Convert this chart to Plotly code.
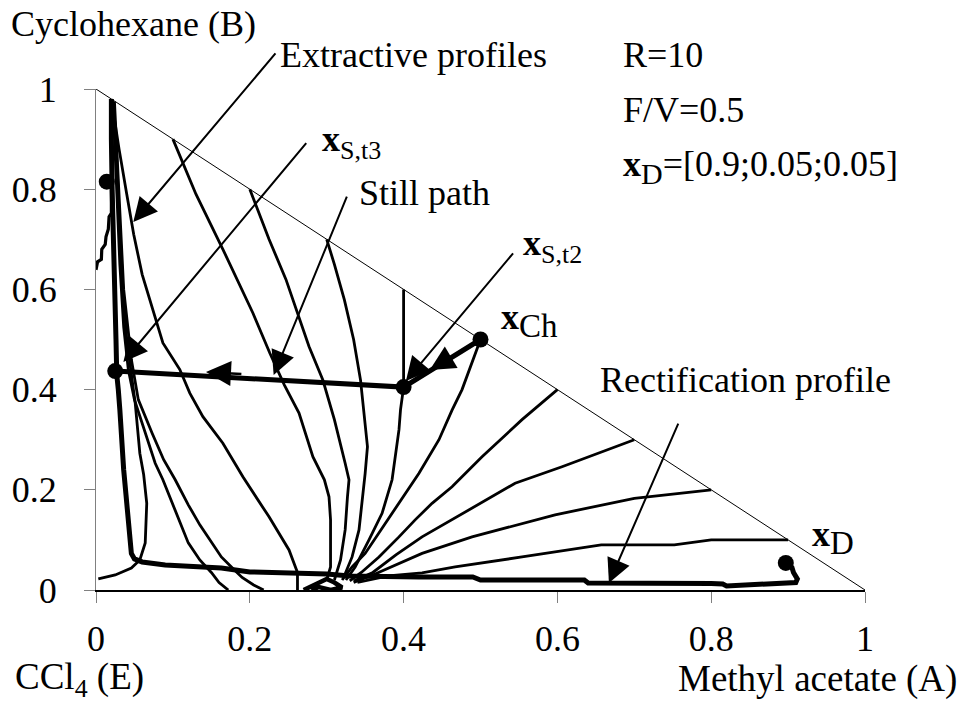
import plotly.graph_objects as go

FONT = "Liberation Serif"
FS = 36
SUB = 26

# ---------------- data (mole fractions: x = methyl acetate, y = cyclohexane) ----
diag_x = [0.0, 1.0]
diag_y = [1.0, 0.0]

# extractive profiles starting on the A-B edge
p1_x = [0.10, 0.13, 0.165, 0.204, 0.226, 0.245, 0.264, 0.282, 0.297, 0.303, 0.305, 0.305, 0.30]
p1_y = [0.90, 0.79, 0.68, 0.553, 0.473, 0.409, 0.353, 0.266, 0.22, 0.186, 0.14, 0.046, 0.02]
p2_x = [0.20, 0.225, 0.247, 0.277, 0.295, 0.31, 0.324, 0.329, 0.327, 0.324, 0.318, 0.31]
p2_y = [0.80, 0.70, 0.62, 0.486, 0.419, 0.34, 0.253, 0.22, 0.186, 0.12, 0.06, 0.02]
p3_x = [0.30, 0.31, 0.323, 0.335, 0.344, 0.348, 0.353, 0.35, 0.347, 0.342, 0.333, 0.322]
p3_y = [0.70, 0.65, 0.579, 0.50, 0.419, 0.353, 0.286, 0.233, 0.186, 0.12, 0.066, 0.025]
p4_x = [0.40, 0.40, 0.396, 0.394, 0.385, 0.372, 0.355, 0.337, 0.325]
p4_y = [0.60, 0.405, 0.36, 0.32, 0.22, 0.153, 0.10, 0.046, 0.02]
p5_x = [0.50, 0.476, 0.463, 0.446, 0.42, 0.394, 0.376, 0.35, 0.333, 0.32]
p5_y = [0.50, 0.40, 0.359, 0.30, 0.233, 0.173, 0.133, 0.073, 0.046, 0.02]
p6_x = [0.60, 0.554, 0.502, 0.463, 0.437, 0.415, 0.394, 0.368, 0.345, 0.33]
p6_y = [0.40, 0.34, 0.266, 0.206, 0.173, 0.14, 0.106, 0.066, 0.035, 0.018]
p7_x = [0.70, 0.606, 0.545, 0.485, 0.463, 0.424, 0.39, 0.36, 0.335]
p7_y = [0.30, 0.246, 0.213, 0.16, 0.14, 0.106, 0.07, 0.035, 0.018]
p8_x = [0.80, 0.70, 0.597, 0.489, 0.424, 0.39, 0.36, 0.335]
p8_y = [0.20, 0.183, 0.15, 0.106, 0.073, 0.05, 0.03, 0.015]
p9_x = [0.90, 0.80, 0.752, 0.657, 0.554, 0.467, 0.424, 0.38, 0.34]
p9_y = [0.10, 0.10, 0.09, 0.09, 0.066, 0.046, 0.034, 0.028, 0.015]

# profiles near the B-E edge
l2_x = [0.02, 0.03, 0.04, 0.049, 0.06, 0.07, 0.087, 0.109, 0.122, 0.139, 0.165, 0.191, 0.225, 0.251, 0.258, 0.262, 0.262]
l2_y = [0.98, 0.88, 0.79, 0.71, 0.63, 0.579, 0.493, 0.44, 0.393, 0.346, 0.293, 0.226, 0.146, 0.08, 0.05, 0.035, 0.0]
l3_x = [0.022, 0.027, 0.031, 0.036, 0.042, 0.05, 0.064, 0.077, 0.087, 0.105, 0.12, 0.135, 0.15, 0.16, 0.172]
l3_y = [0.975, 0.80, 0.65, 0.525, 0.44, 0.38, 0.313, 0.253, 0.22, 0.15, 0.094, 0.06, 0.035, 0.015, 0.0]
l4_x = [0.024, 0.03, 0.036, 0.046, 0.055, 0.073, 0.088, 0.103, 0.12, 0.135, 0.15, 0.163, 0.18, 0.19, 0.205, 0.218]
l4_y = [0.975, 0.80, 0.60, 0.46, 0.38, 0.313, 0.26, 0.22, 0.17, 0.13, 0.095, 0.066, 0.04, 0.025, 0.01, 0.0]
loop_x = [0.003, 0.025, 0.046, 0.057, 0.064, 0.066, 0.062, 0.057, 0.051, 0.046, 0.04, 0.035, 0.03, 0.026, 0.022]
loop_y = [0.022, 0.03, 0.044, 0.06, 0.094, 0.173, 0.23, 0.273, 0.373, 0.433, 0.50, 0.60, 0.75, 0.90, 0.975]
jag_x = [0.0, 0.002, 0.007, 0.0075, 0.012, 0.013, 0.016, 0.017, 0.02, 0.02]
jag_y = [0.639, 0.655, 0.66, 0.68, 0.69, 0.705, 0.72, 0.745, 0.752, 0.80]
blob_x = [0.27, 0.285, 0.30, 0.31, 0.32, 0.305, 0.29, 0.28]
blob_y = [0.0, 0.01, 0.022, 0.015, 0.005, 0.0, 0.006, 0.0]

# rectification profile (thick)
rect_x = [0.897, 0.905, 0.907, 0.912, 0.91, 0.888, 0.87, 0.82, 0.815, 0.80, 0.64, 0.635, 0.50, 0.49, 0.42,
          0.33, 0.30, 0.25, 0.20, 0.163, 0.09, 0.06, 0.05, 0.046, 0.044, 0.042, 0.039, 0.036, 0.034,
          0.031, 0.029, 0.027, 0.026, 0.024, 0.023, 0.022, 0.021, 0.02, 0.02]
rect_y = [0.054, 0.045, 0.035, 0.022, 0.015, 0.013, 0.012, 0.008, 0.012, 0.013, 0.014, 0.02, 0.02, 0.026, 0.026,
          0.028, 0.032, 0.035, 0.036, 0.044, 0.05, 0.056, 0.062, 0.073, 0.10, 0.14, 0.19, 0.24, 0.30,
          0.36, 0.40, 0.43, 0.50, 0.60, 0.65, 0.70, 0.80, 0.90, 0.98]

# still path (thick)
still_x = [0.50, 0.40, 0.025]
still_y = [0.50, 0.405, 0.437]

# marked points: xCh, xS,t2, xS,t3, upper point, xD
pts_x = [0.50, 0.40, 0.025, 0.014, 0.897]
pts_y = [0.50, 0.405, 0.437, 0.815, 0.054]

x_ticks = [0, 0.2, 0.4, 0.6, 0.8, 1]
x_tick_text = ["0", "0.2", "0.4", "0.6", "0.8", "1"]
y_ticks = [0, 0.2, 0.4, 0.6, 0.8, 1]
y_tick_text = ["0", "0.2", "0.4", "0.6", "0.8", "1"]

# ---------------- figure --------------------------------------------------------
fig = go.Figure()

def line(xs, ys, w, color="black"):
    fig.add_trace(go.Scatter(x=xs, y=ys, mode="lines", line=dict(color=color, width=w),
                             hoverinfo="skip", showlegend=False, cliponaxis=False))

line(diag_x, diag_y, 1)
for xs, ys in [(p1_x, p1_y), (p2_x, p2_y), (p3_x, p3_y), (p4_x, p4_y), (p5_x, p5_y),
               (p6_x, p6_y), (p7_x, p7_y), (p8_x, p8_y), (p9_x, p9_y),
               (l2_x, l2_y), (l3_x, l3_y), (l4_x, l4_y), (loop_x, loop_y)]:
    line(xs, ys, 2.8)
line(jag_x, jag_y, 3.2)
line(blob_x, blob_y, 4.5)
line(rect_x, rect_y, 5)
line(still_x, still_y, 5)
fig.add_trace(go.Scatter(x=pts_x, y=pts_y, mode="markers", marker=dict(color="black", size=16),
                         hoverinfo="skip", showlegend=False, cliponaxis=False))

L, R, T, B = 93, 98, 89, 114
W, H = 963, 704
PW, PH = W - L - R, H - T - B

def px(x):
    return (x - L) / PW

def py(y):
    return (H - B - y) / PH

annotations = []

def txt(x, y, text, size=FS, xanchor="left"):
    annotations.append(dict(x=px(x), y=py(y), xref="paper", yref="paper", text=text, showarrow=False,
                            xanchor=xanchor, yanchor="middle",
                            font=dict(family=FONT, size=size, color="black")))

def arrow(tip, tail, size=2.4, width=2):
    annotations.append(dict(x=tip[0], y=tip[1], ax=tail[0], ay=tail[1], xref="x", yref="y",
                            axref="x", ayref="y", text="", showarrow=True, arrowhead=2,
                            arrowsize=size, arrowwidth=width, arrowcolor="black"))

def subx(sub, size):
    return "<b>x</b><sub><span style='font-size:%dpx'>%s</span></sub>" % (size, sub)

txt(6, 24, "Cyclohexane (B)")
txt(276, 55, "Extractive profiles")
txt(620, 55, "R=10")
txt(620, 110, "F/V=0.5")
txt(620, 167, subx("D", 30) + "=[0.9;0.05;0.05]")
txt(318, 142, subx("S,t3", SUB))
txt(355, 193, "Still path")
txt(520, 246, subx("S,t2", SUB))
txt(498, 320, subx("Ch", 33))
txt(597, 380, "Rectification profile")
txt(810, 537, subx("D", 33))
txt(10, 679, "CCl<sub>4</sub> (E)", size=37)
txt(959, 679, "Methyl acetate (A)", size=37, xanchor="right")

arrow((0.0485, 0.7345), (0.235, 1.074))
arrow((0.0356, 0.455), (0.275, 0.895))
arrow((0.231, 0.429), (0.327, 0.788))
arrow((0.403, 0.417), (0.544, 0.675))
arrow((0.667, 0.014), (0.758, 0.335))
arrow((0.434, 0.439), (0.47, 0.472), size=2.0, width=2.5)
arrow((0.143, 0.435), (0.191, 0.431), size=2.0, width=2.5)

fig.update_layout(
    width=W, height=H, margin=dict(l=L, r=R, t=T, b=B, pad=0),
    paper_bgcolor="white", plot_bgcolor="white",
    font=dict(family=FONT, size=FS, color="black"),
    annotations=annotations,
    xaxis=dict(range=[0, 1], tickvals=x_ticks, ticktext=x_tick_text, ticks="outside", ticklen=11,
               tickcolor="#808080", tickwidth=1, showline=True, linecolor="black", linewidth=1.5,
               showgrid=False, zeroline=False, ticklabelstandoff=5,
               tickfont=dict(family=FONT, size=FS, color="black"), fixedrange=True),
    yaxis=dict(range=[0, 1], tickvals=y_ticks, ticktext=y_tick_text, ticks="outside", ticklen=11,
               tickcolor="#808080", tickwidth=1, showline=True, linecolor="#808080", linewidth=1,
               showgrid=False, zeroline=False, ticklabelstandoff=20,
               tickfont=dict(family=FONT, size=FS, color="black"), fixedrange=True),
)

fig.write_html("out.html")
